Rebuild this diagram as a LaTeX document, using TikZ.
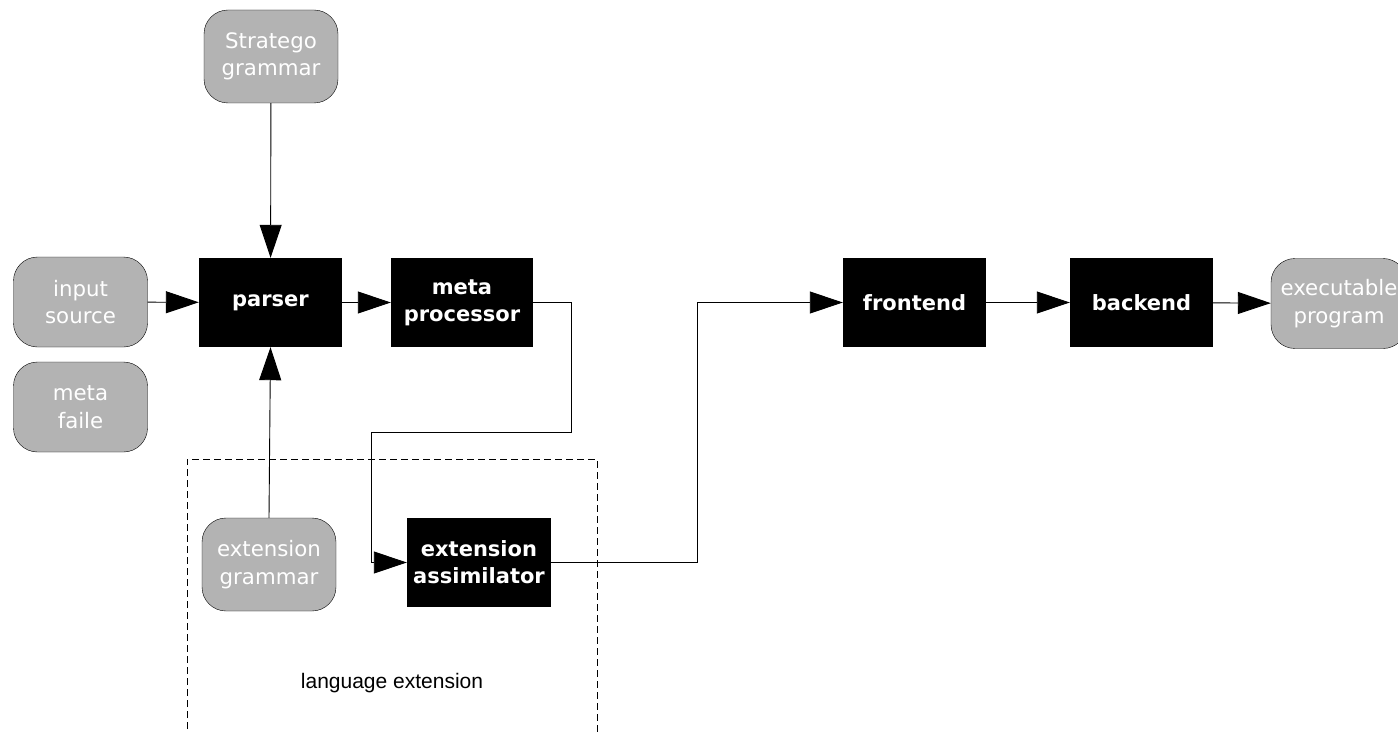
\documentclass[tikz,border=0pt]{standalone}
\usepackage{fontspec}
\setmainfont{DejaVu Sans}
\newfontfamily\labelfont{Liberation Sans}
\usetikzlibrary{arrows.meta}
\definecolor{greybox}{HTML}{B3B3B3}
\begin{document}
\begin{tikzpicture}[x=1pt,y=-1pt,
  srcbox/.style={draw=black, fill=greybox, rounded corners=24pt, minimum width=134pt, minimum height=90pt,
    text=white, align=center, font=\fontsize{21.3}{27.5}\selectfont, inner sep=0pt},
  procbox/.style={fill=black, minimum width=143pt, minimum height=89pt,
    text=white, align=center, font=\fontsize{21}{27}\selectfont\bfseries, inner sep=0pt},
  conn/.style={draw=black, line width=0.9pt, -{Triangle[length=33pt,width=22pt]}}]
\useasboundingbox (0,0) rectangle (1398,733);
% dashed region
\draw[dashed, dash pattern=on 7pt off 4pt, line width=0.8pt] (187,740) -- (187,459) -- (597,459) -- (597,740);
\node[font=\labelfont\fontsize{21}{25}\selectfont] (lang) at (392,683) {language extension};
% nodes
\node[srcbox, minimum height=93pt] (strat) at (271,56.5) {Stratego\\grammar};
\node[srcbox] (input) at (80.5,302) {input\\source};
\node[srcbox] (meta) at (80.5,407) {meta\\faile};
\node[procbox] (parser) at (270.5,302.5) {parser};
\node[procbox, minimum width=142pt] (mproc) at (462,302.5) {meta\\processor};
\node[procbox] (front) at (914.5,302.5) {frontend};
\node[procbox] (back) at (1141.5,302.5) {backend};
\node[srcbox, minimum width=136pt] (exec) at (1339,303.5) {executable\\program};
\node[srcbox, minimum height=93pt] (extg) at (269,564.5) {extension\\grammar};
\node[procbox, minimum width=144pt] (assim) at (479,562.5) {extension\\assimilator};
% connectors
\draw[conn] (strat) -- (parser);
\draw[conn] (input) -- (parser);
\draw[conn] (parser) -- (mproc);
\draw[conn] (extg.north) -- (parser.south);
\draw[conn] (mproc.east) -- (571,302.5) -- (571,432) -- (371,432) -- (371,562.5) -- (assim.west);
\draw[conn] (assim.east) -- (697,562.5) -- (697,302.5) -- (front.west);
\draw[conn] (front) -- (back);
\draw[conn] (back) -- (exec);
\end{tikzpicture}
\end{document}
